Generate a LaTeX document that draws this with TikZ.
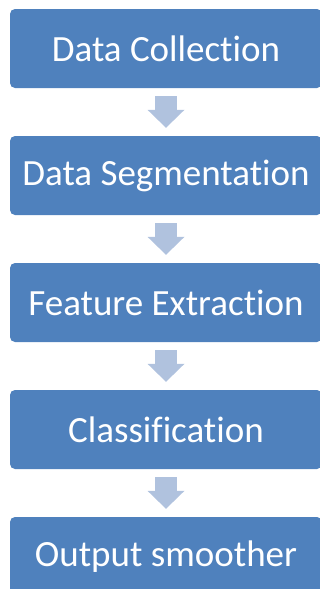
\documentclass[tikz,border=0pt]{standalone}
\usepackage{fontspec}
\setmainfont[Ligatures=NoCommon]{Carlito}
\usetikzlibrary{positioning, arrows.meta}
\definecolor{boxblue}{HTML}{4F81BD}
\definecolor{arrowblue}{HTML}{B0C2DE}

\begin{document}
\begin{tikzpicture}[on grid, node distance=127pt,
    stage/.style={rectangle, rounded corners=5pt, fill=boxblue, text=white,
      minimum width=312pt, minimum height=79pt, inner sep=0pt,
      font=\fontsize{37}{44}\selectfont},
    flow/.style={draw=arrowblue, line width=22pt, shorten <=8pt, shorten >=8pt,
      -{Triangle[width=37pt, length=18pt, line width=0pt, fill=arrowblue]}}]
      \clip (0,0) rectangle (320pt,-589pt);
      \node[stage] (collect) at (166pt,-48.5pt) {Data Collection};
      \node[stage, below=of collect] (segment) {Data Segmentation};
      \node[stage, below=of segment] (feature) {Feature Extraction};
      \node[stage, below=of feature] (classify) {Classification};
      \node[stage, below=of classify] (smooth) {Output smoother};

      \draw (collect) edge[flow] (segment);
      \draw (segment) edge[flow] (feature);
      \draw (feature) edge[flow] (classify);
      \draw (classify) edge[flow] (smooth);
    \end{tikzpicture}
\end{document}
